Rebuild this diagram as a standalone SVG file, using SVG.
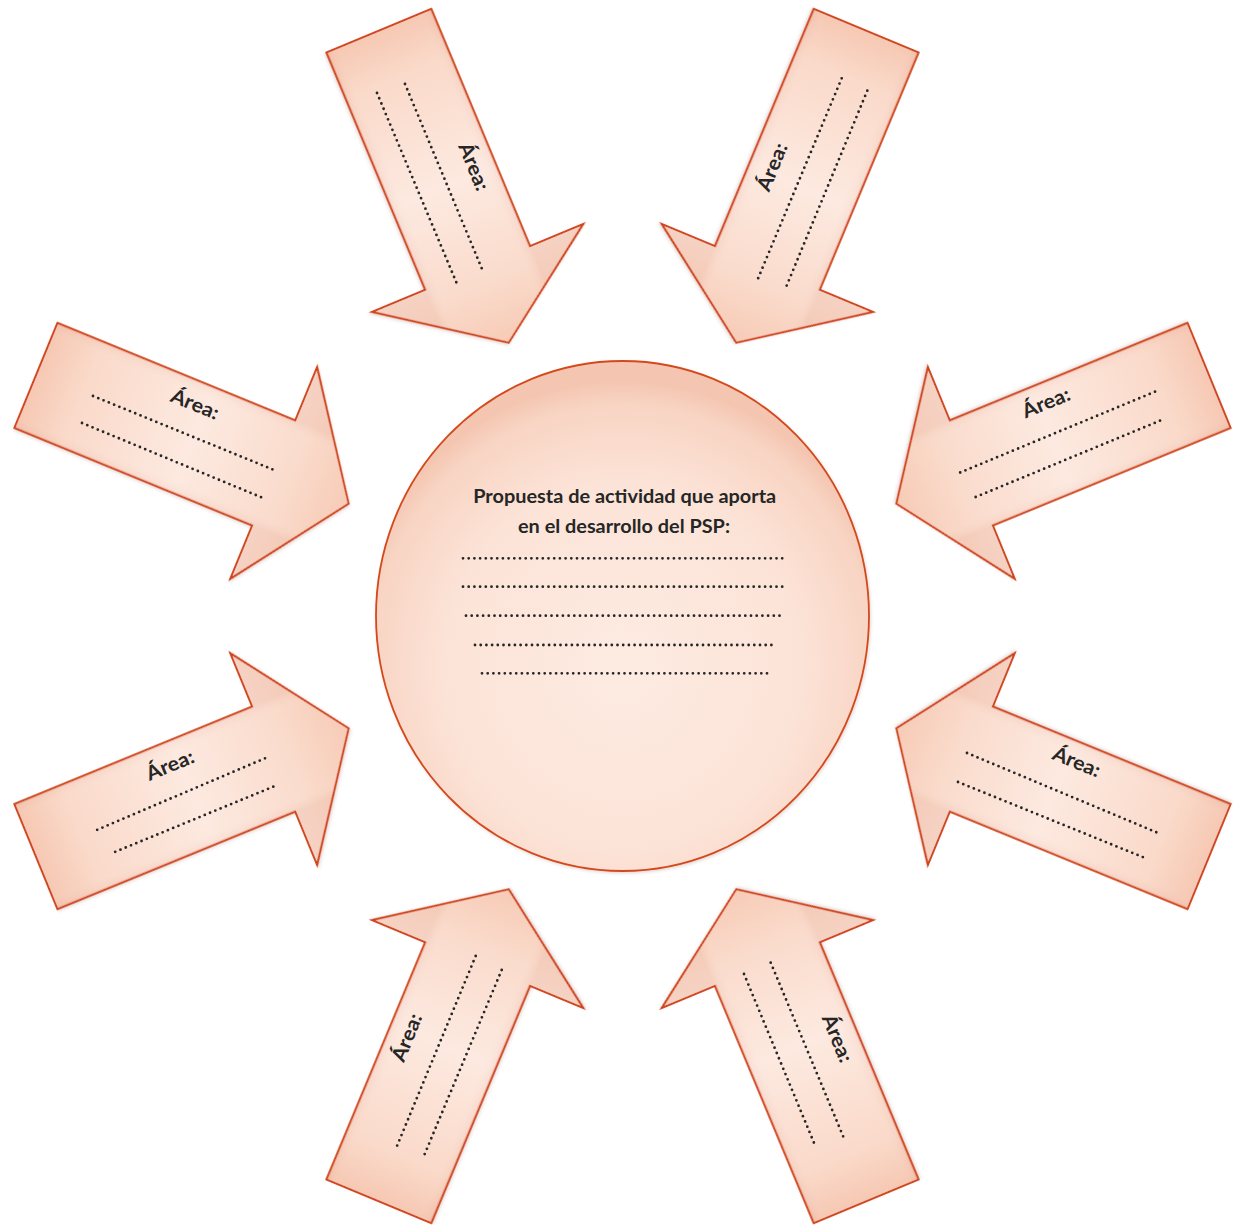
<svg xmlns="http://www.w3.org/2000/svg" width="1239" height="1225" viewBox="0 0 1239 1225">
  <defs>
    <linearGradient id="arrowFill" x1="0" y1="0" x2="1" y2="0">
      <stop offset="0" stop-color="#f6c8b3"/>
      <stop offset="0.15" stop-color="#fadaca"/>
      <stop offset="0.5" stop-color="#fde9e0"/>
      <stop offset="0.8" stop-color="#fadccd"/>
      <stop offset="1" stop-color="#f7cbb6"/>
    </linearGradient>
    <linearGradient id="arrowEdge" x1="0" y1="0" x2="0" y2="1">
      <stop offset="0.25" stop-color="#c8664a" stop-opacity="0.1"/>
      <stop offset="0.32" stop-color="#ffffff" stop-opacity="0"/>
      <stop offset="0.68" stop-color="#ffffff" stop-opacity="0"/>
      <stop offset="0.75" stop-color="#c8664a" stop-opacity="0.1"/>
    </linearGradient>
    <radialGradient id="circleFill" cx="0.5" cy="0.6" r="0.56">
      <stop offset="0" stop-color="#fdebe2"/>
      <stop offset="0.65" stop-color="#fce3d7"/>
      <stop offset="0.92" stop-color="#f8d4c3"/>
      <stop offset="1" stop-color="#f4c6b1"/>
    </radialGradient>
    <filter id="soft" x="-10%" y="-10%" width="120%" height="120%">
      <feDropShadow dx="1" dy="1.5" stdDeviation="1.5" flood-color="#7a4a3a" flood-opacity="0.2"/>
    </filter>
    <path id="arrowShape" d="M -296 0 L -377 -114.4 L -377 -56.75 L -634 -56.75 L -634 56.75 L -377 56.75 L -377 114.4 Z"/>
  </defs>
  <style>
    .arrow { fill: url(#arrowFill); stroke: #cf3f14; stroke-width: 1.9; stroke-linejoin: miter; filter: url(#soft); }
    .edge { fill: url(#arrowEdge); stroke: none; }
    .area { font-family: Lato, "Open Sans", "Liberation Sans", sans-serif; font-weight: bold; font-size: 20px; fill: #262626; text-anchor: middle; }
    .title { font-family: Lato, "Open Sans", "Liberation Sans", sans-serif; font-weight: bold; font-size: 18px; fill: #262626; text-anchor: middle; }
    .dots { stroke: #262626; stroke-width: 2.8; stroke-linecap: round; stroke-dasharray: 0 5.7; fill: none; }
  </style>
  <rect width="1239" height="1225" fill="#ffffff"/>

  <g id="center">
    <ellipse cx="622.5" cy="616" rx="246.5" ry="255" fill="url(#circleFill)" stroke="#d44a1e" stroke-width="1.8" filter="url(#soft)"/>
    <text class="title" x="624.7" y="503" textLength="303" lengthAdjust="spacingAndGlyphs">Propuesta de actividad que aporta</text>
    <text class="title" x="624" y="533" textLength="212" lengthAdjust="spacingAndGlyphs">en el desarrollo del PSP:</text>
    <line class="dots" x1="463" y1="558.3" x2="785" y2="558.3"/>
    <line class="dots" x1="463" y1="586.7" x2="785" y2="586.7"/>
    <line class="dots" x1="466" y1="615.7" x2="783" y2="615.7"/>
    <line class="dots" x1="475" y1="645" x2="773" y2="645"/>
    <line class="dots" x1="482" y1="673.3" x2="768" y2="673.3"/>
  </g>

  <g id="arrow-top-left">
    <use href="#arrowShape" class="arrow" transform="translate(622.5 616) rotate(67.4)"/>
    <use href="#arrowShape" class="edge" transform="translate(622.5 616) rotate(67.4)"/>
    <text class="area" transform="translate(474 166.5) rotate(67.6)" y="7" textLength="50" lengthAdjust="spacingAndGlyphs">Área:</text>
    <line class="dots" x1="405" y1="84" x2="482" y2="269"/>
    <line class="dots" x1="377" y1="93" x2="457" y2="284"/>
  </g>

  <g id="arrow-top-right">
    <use href="#arrowShape" class="arrow" transform="translate(622.5 616) rotate(112.6)"/>
    <use href="#arrowShape" class="edge" transform="translate(622.5 616) rotate(112.6)"/>
    <text class="area" transform="translate(772 167) rotate(-67.6)" y="7" textLength="50" lengthAdjust="spacingAndGlyphs">Área:</text>
    <line class="dots" x1="841.7" y1="78.3" x2="757.7" y2="279.3"/>
    <line class="dots" x1="867.3" y1="90.7" x2="786" y2="287.3"/>
  </g>

  <g id="arrow-upper-left">
    <use href="#arrowShape" class="arrow" transform="translate(622.5 616) rotate(22.3)"/>
    <use href="#arrowShape" class="edge" transform="translate(622.5 616) rotate(22.3)"/>
    <text class="area" transform="translate(195 404) rotate(22.4)" y="7" textLength="50" lengthAdjust="spacingAndGlyphs">Área:</text>
    <line class="dots" x1="93" y1="396" x2="274" y2="470"/>
    <line class="dots" x1="82" y1="423" x2="263" y2="498"/>
  </g>

  <g id="arrow-upper-right">
    <use href="#arrowShape" class="arrow" transform="translate(622.5 616) rotate(157.7)"/>
    <use href="#arrowShape" class="edge" transform="translate(622.5 616) rotate(157.7)"/>
    <text class="area" transform="translate(1046 402.5) rotate(-22.4)" y="7" textLength="50" lengthAdjust="spacingAndGlyphs">Área:</text>
    <line class="dots" x1="1155" y1="391.7" x2="958.3" y2="473.3"/>
    <line class="dots" x1="1160" y1="420.7" x2="975" y2="497.3"/>
  </g>

  <g id="arrow-lower-left">
    <use href="#arrowShape" class="arrow" transform="translate(622.5 616) rotate(-22.3)"/>
    <use href="#arrowShape" class="edge" transform="translate(622.5 616) rotate(-22.3)"/>
    <text class="area" transform="translate(170 765) rotate(-22.4)" y="7" textLength="50" lengthAdjust="spacingAndGlyphs">Área:</text>
    <line class="dots" x1="265" y1="758.3" x2="96.7" y2="830"/>
    <line class="dots" x1="273.3" y1="786.7" x2="110" y2="854"/>
  </g>

  <g id="arrow-lower-right">
    <use href="#arrowShape" class="arrow" transform="translate(622.5 616) rotate(-157.7)"/>
    <use href="#arrowShape" class="edge" transform="translate(622.5 616) rotate(-157.7)"/>
    <text class="area" transform="translate(1076.7 761.7) rotate(22.4)" y="7" textLength="50" lengthAdjust="spacingAndGlyphs">Área:</text>
    <line class="dots" x1="967" y1="753" x2="1158" y2="833"/>
    <line class="dots" x1="958" y1="782" x2="1145" y2="858"/>
  </g>

  <g id="arrow-bottom-left">
    <use href="#arrowShape" class="arrow" transform="translate(622.5 616) rotate(-67.4)"/>
    <use href="#arrowShape" class="edge" transform="translate(622.5 616) rotate(-67.4)"/>
    <text class="area" transform="translate(406.7 1037.5) rotate(-67.6)" y="7" textLength="50" lengthAdjust="spacingAndGlyphs">Área:</text>
    <line class="dots" x1="475.7" y1="956" x2="396.7" y2="1146.7"/>
    <line class="dots" x1="501.7" y1="970" x2="424.3" y2="1155"/>
  </g>

  <g id="arrow-bottom-right">
    <use href="#arrowShape" class="arrow" transform="translate(622.5 616) rotate(-112.6)"/>
    <use href="#arrowShape" class="edge" transform="translate(622.5 616) rotate(-112.6)"/>
    <text class="area" transform="translate(837.5 1038.3) rotate(67.6)" y="7" textLength="50" lengthAdjust="spacingAndGlyphs">Área:</text>
    <line class="dots" x1="770.7" y1="962.7" x2="843.3" y2="1136.7"/>
    <line class="dots" x1="744" y1="974" x2="816" y2="1147.7"/>
  </g>

  <g id="connectors"></g>
</svg>
